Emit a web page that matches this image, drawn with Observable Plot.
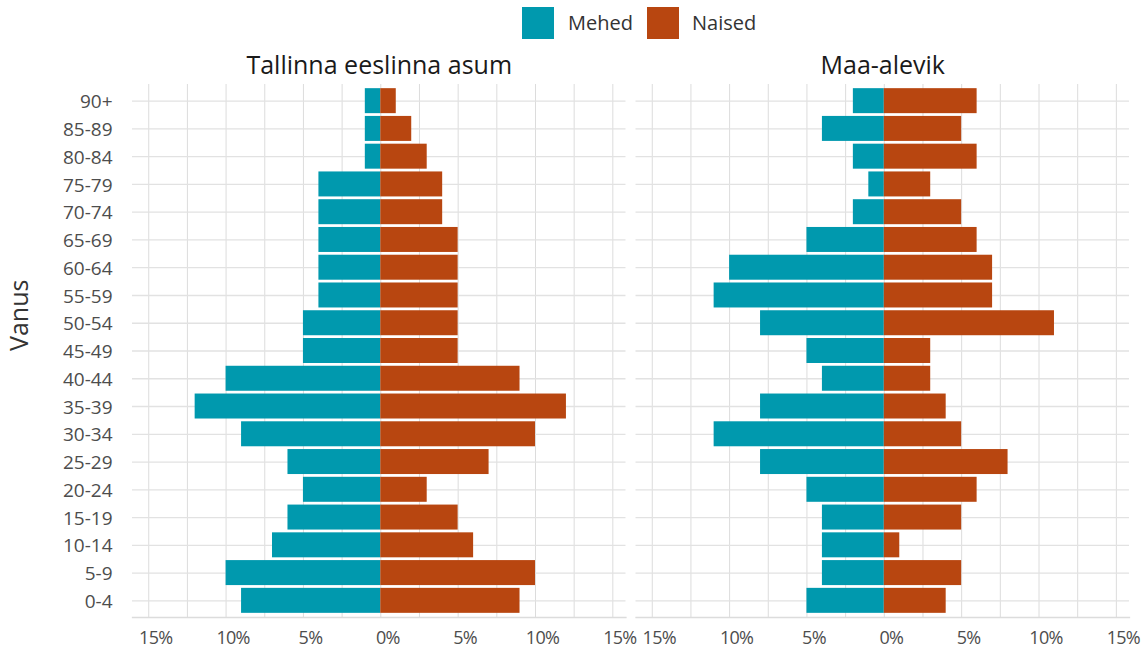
<!DOCTYPE html>
<html><head><meta charset="utf-8">
<script src="https://cdn.jsdelivr.net/npm/d3@7"></script>
<script src="https://cdn.jsdelivr.net/npm/@observablehq/plot@0.6"></script>
<style>
body{margin:0;background:#fff;font-family:"Open Sans",sans-serif;}
#legend{position:relative;width:1147px;height:46px;}
.sw{position:absolute;top:7px;width:32px;height:32px;}
.lt{position:absolute;top:9px;font-size:20px;color:#333;line-height:27px;white-space:nowrap;}
#chart svg{display:block;}
#chart g[aria-label="x-axis tick label"] text{letter-spacing:-0.7px;}
</style></head><body>
<div id="legend"></div>
<div id="chart"></div>
<script>
// ---- data ----
const ageGroups = ["0-4","5-9","10-14","15-19","20-24","25-29","30-34","35-39","40-44","45-49","50-54","55-59","60-64","65-69","70-74","75-79","80-84","85-89","90+"];
const regions = ["Tallinna eeslinna asum", "Maa-alevik"];
const sexes = ["Mehed", "Naised"];
const sexColors = ["#0099AE", "#B84610"];
// percent of population, by age group (0-4 ... 90+)
const tallinnMen   = [9,10,7,6,5,6,9,12,10,5,5,4,4,4,4,4,1,1,1];
const tallinnWomen = [9,10,6,5,3,7,10,12,9,5,5,5,5,5,4,4,3,2,1];
const alevikMen    = [5,4,4,4,5,8,11,8,4,5,8,11,10,5,2,1,2,4,2];
const alevikWomen  = [4,5,1,5,6,8,5,4,3,3,11,7,7,6,5,3,6,5,6];
const xTicks = [-15,-10,-5,0,5,10,15];
const xGridTicks = [-15,-12.5,-10,-7.5,-5,-2.5,0,2.5,5,7.5,10,12.5,15];
const yAxisLabel = "Vanus";

// ---- table ----
const series = [
  [regions[0], sexes[0], tallinnMen, -1],
  [regions[0], sexes[1], tallinnWomen, 1],
  [regions[1], sexes[0], alevikMen, -1],
  [regions[1], sexes[1], alevikWomen, 1]
];
const rows = [];
for (const [region, sex, vals, sign] of series) {
  vals.forEach((v, i) => rows.push({region, sex, age: ageGroups[i], value: sign * v}));
}

// ---- legend ----
const legend = document.getElementById("legend");
const legendPos = [[522, 568], [647, 692]];
sexes.forEach((s, i) => {
  const sw = document.createElement("div");
  sw.className = "sw"; sw.style.left = legendPos[i][0] + "px"; sw.style.background = sexColors[i];
  const t = document.createElement("div");
  t.className = "lt"; t.style.left = legendPos[i][1] + "px"; t.textContent = s;
  legend.append(sw, t);
});

// ---- chart ----
const chart = Plot.plot({
  width: 1147,
  height: 604,
  marginLeft: 132,
  marginRight: 18,
  marginTop: 38,
  marginBottom: 33,
  style: {fontFamily: "'Open Sans', sans-serif", fontSize: "19px", color: "#4d4d4d", background: "#fff"},
  fx: {domain: regions, padding: 0.0199, round: false, label: null, axis: null},
  x: {domain: [-16.05, 15.85], axis: null},
  y: {domain: ageGroups.slice().reverse(), paddingInner: 0.1, paddingOuter: 0.15, round: false, label: null, axis: null},
  color: {domain: sexes, range: sexColors},
  marks: [
    Plot.gridX(xGridTicks, {stroke: "#dcdcdc", strokeOpacity: 1, strokeWidth: 1}),
    Plot.gridY({stroke: "#e2e2e2", strokeOpacity: 1, strokeWidth: 1.3}),
    Plot.frame({anchor: "bottom", stroke: "#dcdcdc", strokeWidth: 1.3}),
    Plot.barX(rows, {x: "value", y: "age", fx: "region", fill: "sex"}),
    Plot.axisY({tickSize: 0, tickPadding: 20, fontSize: 19, fill: "#4d4d4d", label: null, dy: 1}),
    Plot.axisX(xTicks, {tickSize: 0, tickPadding: 14, fontSize: 18, fill: "#4d4d4d", dx: 7, label: null, tickFormat: d => Math.abs(d) + "%"}),
    Plot.axisFx({anchor: "top", tickSize: 0, tickPadding: 11, fontSize: 25, fill: "#1a1a1a", label: null}),
    Plot.text([regions[0]], {fx: d => d, text: () => yAxisLabel, frameAnchor: "left", rotate: -90, dx: -113, fontSize: 25, fill: "#333"})
  ]
});
document.getElementById("chart").append(chart);
</script>
</body></html>
